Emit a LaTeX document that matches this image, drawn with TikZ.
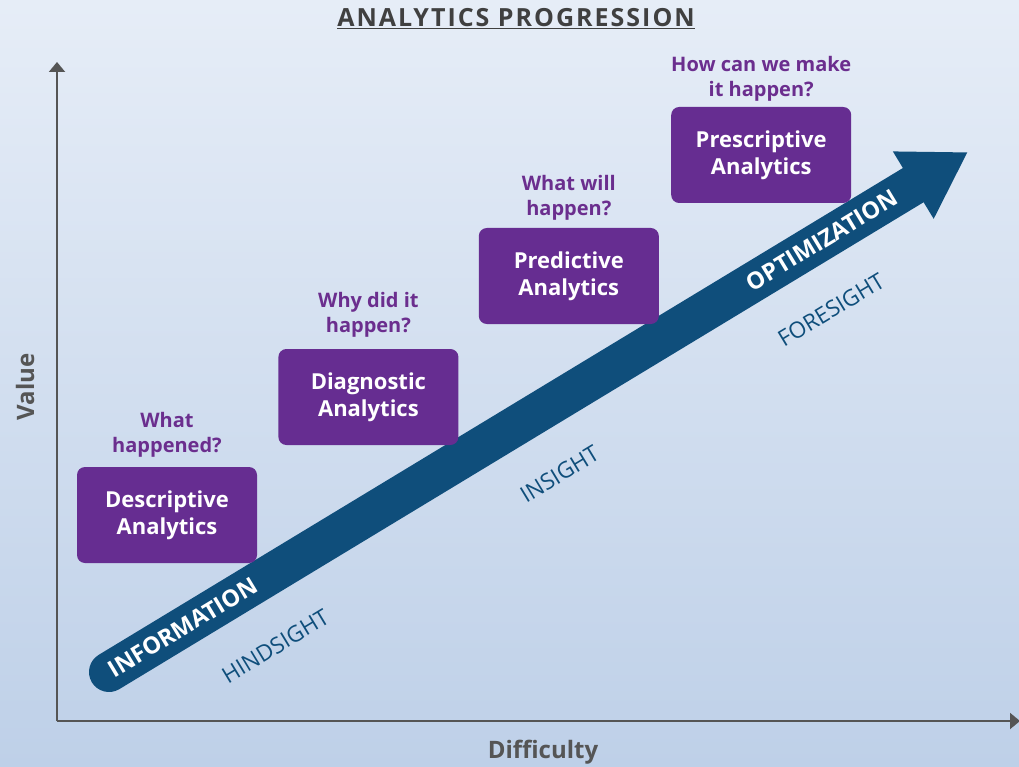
\documentclass[tikz,border=0pt]{standalone}
\usepackage{fontspec}
\setmainfont{Open Sans}
\usepackage{tikz}
\usetikzlibrary{arrows.meta,positioning,calc}
\definecolor{antop}{RGB}{230,237,247}
\definecolor{anbottom}{RGB}{190,208,232}
\definecolor{anpurple}{RGB}{102,45,145}
\definecolor{anquestion}{RGB}{107,46,142}
\definecolor{anblue}{RGB}{15,78,123}
\definecolor{angray}{RGB}{85,85,85}
\definecolor{antitle}{RGB}{64,64,64}
\tikzstyle{stage} = [rectangle, rounded corners=8pt, minimum width=180pt, minimum height=96pt, text centered, fill=anpurple, text=white, align=center, font=\fontsize{22}{27}\selectfont\bfseries]
\tikzstyle{question} = [text=anquestion, align=center, font=\fontsize{20}{25}\selectfont\bfseries]
\tikzstyle{axis} = [line width=2pt, color=angray, -{Triangle[length=10pt,width=16pt]}]
\tikzstyle{axislabel} = [text=angray, font=\fontsize{24}{28}\selectfont\bfseries]
\tikzstyle{onarrow} = [sloped, text=white, font=\fontsize{23.5}{26}\selectfont\bfseries]
\tikzstyle{sight} = [sloped, text=anblue, font=\fontsize{22.5}{26}\selectfont]

\begin{document}
\begin{tikzpicture}[x=1pt, y=-1pt]
% Background
\useasboundingbox (0,0) rectangle (1019,767);
\shade[top color=antop, bottom color=anbottom] (0,0) rectangle (1019,767);

% Title
\node (title) [text=antitle, font=\fontsize{25}{30}\selectfont\bfseries\addfontfeature{LetterSpace=8}] at (516,19) {\underline{ANALYTICS PROGRESSION}};

% Axes
\coordinate (origin) at (57,721);
\coordinate (vtop) at (57,62);
\coordinate (hend) at (1020,721);
\draw[axis] (origin) -- (vtop);
\draw[axis] (origin) -- (hend);
\node (value) [axislabel, rotate=90] at (25,387) {Value};
\node (difficulty) [axislabel] at (543,752) {Difficulty};

% Big arrow
\coordinate (tail) at (109,672);
\coordinate (tip) at (968,152);
\draw[line width=40pt, line cap=round, color=anblue, -{Triangle[length=64pt,width=74pt]}] (tail) -- (tip);
\path (tail) -- (tip) node[onarrow, pos=0.086] {INFORMATION} node[onarrow, pos=0.83] {OPTIMIZATION};

% Labels under the arrow
\coordinate (ltail) at ($(tail)!64pt!-90:(tip)$);
\coordinate (ltip) at ($(tip)!64pt!90:(tail)$);
\path (ltail) -- (ltip) node[sight, pos=0.155] {HINDSIGHT} node[sight, pos=0.486] {INSIGHT} node[sight, pos=0.802] {FORESIGHT};

% Stages
\node (desc) [stage] at (167,515) {Descriptive\\Analytics};
\node (diag) [stage, right=21pt of desc, yshift=118pt] {Diagnostic\\Analytics};
\node (pred) [stage, right=20pt of diag, yshift=121pt] {Predictive\\Analytics};
\node (presc) [stage, right=12pt of pred, yshift=121pt] {Prescriptive\\Analytics};

% Questions
\node (qdesc) [question, above=6pt of desc] {What\\happened?};
\node (qdiag) [question, above=8pt of diag] {Why did it\\happen?};
\node (qpred) [question, above=4pt of pred] {What will\\happen?};
\node (qpresc) [question, above=2pt of presc] {How can we make\\it happen?};
\end{tikzpicture}
\end{document}
